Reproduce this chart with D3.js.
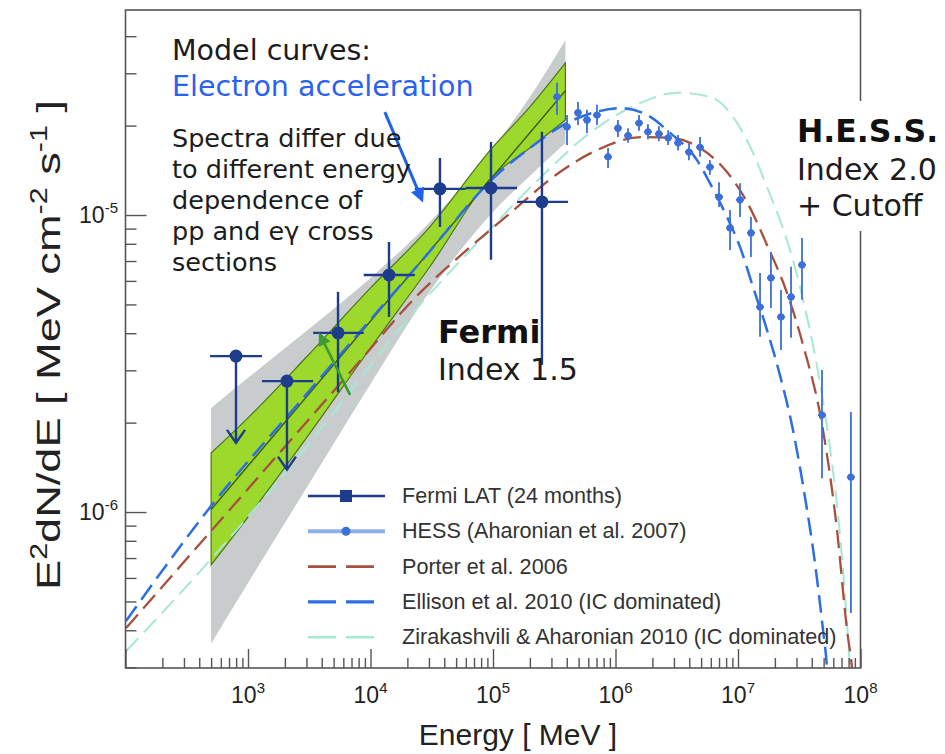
<!DOCTYPE html>
<html>
<head>
<meta charset="utf-8">
<script src="https://cdn.jsdelivr.net/npm/d3@7"></script>
<style>
  body { margin: 0; background: #fff; }
  svg { display: block; }
</style>
</head>
<body>
<div id="chart"></div>
<script>
// Fermi LAT (24 months) points, first two are upper limits
const fermiE = [798, 2080, 5430, 14160, 36900, 96300, 251000];
const fermiF = [3.35e-6, 2.76e-6, 4.01e-6, 6.28e-6, 1.225e-5, 1.233e-5, 1.107e-5];
const fermiELo = [490, 1300, 3400, 8800, 23000, 60000, 157000];
const fermiEHi = [1300, 3400, 8800, 23000, 60000, 157000, 410000];
const fermiFLo = [1.71e-6, 1.39e-6, 2.53e-6, 4.54e-6, 9.12e-6, 7.07e-6, 3.13e-6];
const fermiFHi = [null, null, 5.51e-6, 8.11e-6, 1.556e-5, 1.762e-5, 1.905e-5];
const fermiUL = [true, true, false, false, false, false, false];

// HESS (Aharonian et al. 2007)
const hessE = [3.33e5, 4.02e5, 4.94e5, 5.85e5, 7.06e5, 8.69e5, 1.047e6, 1.265e6, 1.556e6, 1.84e6,
  2.26e6, 2.69e6, 3.24e6, 3.98e6, 4.90e6, 5.90e6, 7.0e6, 8.61e6, 1.038e7, 1.276e7,
  1.513e7, 1.858e7, 2.244e7, 2.71e7, 3.33e7, 4.85e7, 8.35e7];
const hessF = [2.50e-5, 1.98e-5, 2.21e-5, 2.09e-5, 2.17e-5, 1.57e-5, 1.96e-5, 1.85e-5, 2.04e-5, 1.905e-5,
  1.875e-5, 1.82e-5, 1.75e-5, 1.63e-5, 1.69e-5, 1.45e-5, 1.15e-5, 9.05e-6, 1.125e-5, 8.7e-6,
  4.90e-6, 6.14e-6, 4.54e-6, 5.30e-6, 6.79e-6, 2.12e-6, 1.31e-6];
const hessFLo = [2.17e-5, 1.72e-5, 2.01e-5, 1.89e-5, 2.01e-5, 1.44e-5, 1.83e-5, 1.75e-5, 1.92e-5, 1.80e-5,
  1.77e-5, 1.72e-5, 1.65e-5, 1.53e-5, 1.57e-5, 1.365e-5, 1.065e-5, 7.63e-6, 9.85e-6, 7.22e-6,
  3.89e-6, 4.86e-6, 3.51e-6, 3.86e-6, 5.18e-6, 1.30e-6, 4.57e-7];
const hessFHi = [2.79e-5, 2.17e-5, 2.40e-5, 2.26e-5, 2.35e-5, 1.68e-5, 2.09e-5, 1.96e-5, 2.17e-5, 2.02e-5,
  1.99e-5, 1.93e-5, 1.86e-5, 1.74e-5, 1.83e-5, 1.53e-5, 1.29e-5, 1.04e-5, 1.28e-5, 9.85e-6,
  6.38e-6, 7.51e-6, 5.59e-6, 6.69e-6, 8.37e-6, 3.01e-6, 2.17e-6];

// Fermi butterflies (systematic = gray, statistical = green)
const bandE = [500, 1000, 3000, 1e4, 3e4, 1e5, 2e5, 3.9e5];
const grayHi = [2.24e-6, 2.83e-6, 4.07e-6, 6.14e-6, 9.40e-6, 1.681e-5, 2.497e-5, 3.886e-5];
const grayLo = [3.60e-7, 5.77e-7, 1.205e-6, 2.70e-6, 5.47e-6, 1.024e-5, 1.354e-5, 1.748e-5];
const greenHi = [1.58e-6, 2.074e-6, 3.327e-6, 5.683e-6, 9.05e-6, 1.695e-5, 2.311e-5, 3.25e-5];
const greenLo = [6.64e-7, 9.62e-7, 1.776e-6, 3.567e-6, 6.63e-6, 1.354e-5, 1.681e-5, 2.09e-5];
const fitE = [500, 3.9e5];
const fitF = [1.02e-6, 2.62e-5];

// model curves
const porterE = [101, 508, 2200, 7190, 25300, 53800, 1.30e5, 3.52e5, 6.55e5, 1.675e6, 2.79e6, 4.90e6,
  8.13e6, 1.183e7, 1.725e7, 2.51e7, 3.40e7, 4.94e7, 6.43e7, 7.76e7, 8.53e7, 9.0e7];
const porterF = [4.07e-7, 8.70e-7, 1.735e-6, 3.03e-6, 5.47e-6, 7.28e-6, 9.93e-6, 1.396e-5, 1.63e-5, 1.83e-5, 1.82e-5, 1.68e-5,
  1.396e-5, 1.107e-5, 7.93e-6, 5.47e-6, 3.65e-6, 1.89e-6, 8.70e-7, 4.01e-7, 2.985e-7, 2.33e-7];
const ellisonE = [101, 508, 2650, 25300, 1.14e5, 2.00e5, 3.52e5, 6.55e5, 1.09e6, 1.74e6, 2.79e6, 4.63e6,
  5.90e6, 8.13e6, 1.038e7, 1.325e7, 1.725e7, 2.20e7, 2.81e7, 3.52e7, 4.25e7, 4.94e7, 5.33e7, 5.53e7];
const ellisonF = [4.30e-7, 1.057e-6, 2.35e-6, 6.90e-6, 1.396e-5, 1.68e-5, 1.98e-5, 2.21e-5, 2.29e-5, 2.19e-5, 1.89e-5, 1.53e-5,
  1.28e-5, 9.85e-6, 7.81e-6, 5.73e-6, 4.10e-6, 2.89e-6, 1.89e-6, 1.124e-6, 6.74e-7, 4.01e-7, 2.985e-7, 2.33e-7];
const ziraE = [101, 518, 2650, 25300, 78300, 2.42e5, 6.19e5, 1.585e6, 3.18e6, 5.90e6, 9.10e6, 1.325e7,
  1.725e7, 2.20e7, 2.81e7, 3.40e7, 4.09e7, 4.85e7, 5.74e7, 6.68e7, 7.47e7, 8.21e7, 8.53e7];
const ziraF = [3.40e-7, 7.06e-7, 1.556e-6, 4.98e-6, 8.24e-6, 1.333e-5, 1.89e-5, 2.38e-5, 2.58e-5, 2.50e-5, 2.14e-5, 1.62e-5,
  1.243e-5, 9.62e-6, 7.06e-6, 5.18e-6, 3.65e-6, 2.48e-6, 1.556e-6, 9.05e-7, 5.26e-7, 2.985e-7, 2.33e-7];

// annotation arrows [E, F] -> [E, F]
const blueArrow = [[13100, 2.22e-5], [26300, 1.125e-5]];
const greenArrow = [[6810, 2.48e-6], [3870, 3.95e-6]];

const xTickExp = [3, 4, 5, 6, 7, 8];
const yTickExp = [-6, -5];
const legendLabels = [
  "Fermi LAT (24 months)",
  "HESS (Aharonian et al. 2007)",
  "Porter et al. 2006",
  "Ellison et al. 2010 (IC dominated)",
  "Zirakashvili & Aharonian 2010 (IC dominated)",
];

const W = 945, H = 754;
const M = { left: 125.5, right: 860.5, top: 10, bottom: 668 };
const navy = "#1d3c8c", hessBlue = "#3d6fd8", frameColor = "#555";
const axisFont = "'Liberation Sans', Arial, sans-serif";
const noteFont = "'DejaVu Sans', Verdana, sans-serif";

const x = d3.scaleLog().domain([1e2, 1e8]).range([M.left, M.right]);
const y = d3.scaleLog().domain([2.985e-7, 4.9e-5]).range([M.bottom, M.top]);

const svg = d3.select("#chart").append("svg")
  .attr("width", W).attr("height", H).attr("viewBox", [0, 0, W, H]);

const defs = svg.append("defs");
defs.append("clipPath").attr("id", "plot").append("rect")
  .attr("x", M.left).attr("y", M.top)
  .attr("width", M.right - M.left).attr("height", M.bottom - M.top);

function arrowMarker(id, color, w, h) {
  defs.append("marker").attr("id", id)
    .attr("viewBox", "0 0 10 10").attr("refX", 8).attr("refY", 5)
    .attr("markerUnits", "userSpaceOnUse")
    .attr("markerWidth", w).attr("markerHeight", h)
    .attr("orient", "auto")
    .append("path").attr("d", "M0,0L10,5L0,10z").attr("fill", color);
}
arrowMarker("headBlue", "#1f62ea", 16, 14);
arrowMarker("headGreen", "#3e9b32", 15, 13);

const plot = svg.append("g").attr("clip-path", "url(#plot)");

// butterflies
const bandArea = (lo, hi) => d3.area()
  .x((d, i) => x(bandE[i]))
  .y0((d, i) => y(lo[i]))
  .y1((d, i) => y(hi[i]))
  .curve(d3.curveMonotoneX)(bandE);

plot.append("path").attr("d", bandArea(grayLo, grayHi))
  .attr("fill", "#c8cccc");
plot.append("path").attr("d", bandArea(greenLo, greenHi))
  .attr("fill", "#9dd82c").attr("stroke", "#4f7419").attr("stroke-width", 1.2);
plot.append("path")
  .attr("d", d3.line().x((d, i) => x(fitE[i])).y((d, i) => y(fitF[i]))(fitE))
  .attr("stroke", "#3e5c14").attr("stroke-width", 1.4).attr("fill", "none");

// models
const models = [
  { E: ziraE, F: ziraF, color: "#a6e8d6", width: 2, dash: "18,8" },
  { E: porterE, F: porterF, color: "#a5513d", width: 2.3, dash: "18,8" },
  { E: ellisonE, F: ellisonF, color: "#2c6ee3", width: 2.5, dash: "18,8" },
];
models.forEach((m) => {
  plot.append("path")
    .attr("d", d3.line()
      .x((d, i) => x(m.E[i]))
      .y((d, i) => y(m.F[i]))
      .curve(d3.curveMonotoneX)(m.E))
    .attr("fill", "none")
    .attr("stroke", m.color)
    .attr("stroke-width", m.width)
    .attr("stroke-dasharray", m.dash);
});

// HESS points
const hess = plot.append("g");
hessE.forEach((e, i) => {
  const cx = x(e), cy = y(hessF[i]);
  hess.append("line").attr("x1", cx).attr("x2", cx)
    .attr("y1", y(hessFLo[i])).attr("y2", y(hessFHi[i]))
    .attr("stroke", hessBlue).attr("stroke-width", 1.8);
  hess.append("line").attr("x1", cx - 4).attr("x2", cx + 4)
    .attr("y1", cy).attr("y2", cy)
    .attr("stroke", hessBlue).attr("stroke-width", 1.8);
  hess.append("circle").attr("cx", cx).attr("cy", cy).attr("r", 3.6)
    .attr("fill", hessBlue);
});

// Fermi points
const fermi = plot.append("g").attr("stroke", navy).attr("stroke-width", 2.4).attr("fill", "none");
fermiE.forEach((e, i) => {
  const cx = x(e), cy = y(fermiF[i]);
  fermi.append("line").attr("x1", x(fermiELo[i])).attr("x2", x(fermiEHi[i]))
    .attr("y1", cy).attr("y2", cy);
  if (fermiUL[i]) {
    const tip = y(fermiFLo[i]);
    fermi.append("line").attr("x1", cx).attr("x2", cx).attr("y1", cy).attr("y2", tip);
    fermi.append("path").attr("d", `M${cx - 9},${tip - 13}L${cx},${tip}L${cx + 9},${tip - 13}`);
  } else {
    fermi.append("line").attr("x1", cx).attr("x2", cx)
      .attr("y1", y(fermiFLo[i])).attr("y2", y(fermiFHi[i]));
  }
  fermi.append("circle").attr("cx", cx).attr("cy", cy).attr("r", 6.5)
    .attr("fill", navy).attr("stroke", "none");
});

// arrows
plot.append("line")
  .attr("x1", x(greenArrow[0][0])).attr("y1", y(greenArrow[0][1]))
  .attr("x2", x(greenArrow[1][0])).attr("y2", y(greenArrow[1][1]))
  .attr("stroke", "#3e9b32").attr("stroke-width", 2.6)
  .attr("marker-end", "url(#headGreen)");
svg.append("line")
  .attr("x1", x(blueArrow[0][0])).attr("y1", y(blueArrow[0][1]))
  .attr("x2", x(blueArrow[1][0])).attr("y2", y(blueArrow[1][1]))
  .attr("stroke", "#1f62ea").attr("stroke-width", 3)
  .attr("marker-end", "url(#headBlue)");

// frame and ticks
svg.append("rect")
  .attr("x", M.left).attr("y", M.top)
  .attr("width", M.right - M.left).attr("height", M.bottom - M.top)
  .attr("fill", "none").attr("stroke", frameColor).attr("stroke-width", 1.6);

const xMinor = [], yMinor = [];
for (let p = 2; p < 8; p++) for (let m = 2; m < 10; m++) xMinor.push(m * 10 ** p);
for (let p = -7; p < -4; p++) for (let m = 2; m < 10; m++) {
  const v = m * 10 ** p;
  if (v > y.domain()[0] && v < y.domain()[1]) yMinor.push(v);
}
const xMajor = [2, ...xTickExp].map((p) => 10 ** p);
const yMajor = yTickExp.map((p) => 10 ** p);

const styleTicks = (g) => {
  g.select(".domain").remove();
  g.selectAll("line").attr("stroke", frameColor).attr("stroke-width", 1.4);
};
svg.append("g").attr("transform", `translate(0,${M.bottom})`)
  .call(d3.axisBottom(x).tickValues(xMinor).tickSize(-10).tickFormat(""))
  .call(styleTicks);
svg.append("g").attr("transform", `translate(0,${M.bottom})`)
  .call(d3.axisBottom(x).tickValues(xMajor).tickSize(-19).tickFormat(""))
  .call(styleTicks);
svg.append("g").attr("transform", `translate(${M.left},0)`)
  .call(d3.axisLeft(y).tickValues(yMinor).tickSize(-11).tickFormat(""))
  .call(styleTicks);
svg.append("g").attr("transform", `translate(${M.left},0)`)
  .call(d3.axisLeft(y).tickValues(yMajor).tickSize(-21).tickFormat(""))
  .call(styleTicks);

// tick labels
xTickExp.forEach((p) => {
  const t = svg.append("text").attr("x", x(10 ** p)).attr("y", 703)
    .attr("text-anchor", "middle").attr("font-family", axisFont)
    .attr("font-size", 23).attr("fill", "#222");
  t.append("tspan").text("10");
  t.append("tspan").attr("font-size", 15).attr("dy", -10).text(p);
});
yTickExp.forEach((p) => {
  const t = svg.append("text").attr("x", 118).attr("y", y(10 ** p) + 8)
    .attr("text-anchor", "end").attr("font-family", axisFont)
    .attr("font-size", 23).attr("fill", "#222");
  t.append("tspan").text("10");
  t.append("tspan").attr("font-size", 15).attr("dy", -10).text(p);
});

// axis titles
svg.append("text").attr("x", 518).attr("y", 745)
  .attr("text-anchor", "middle").attr("font-family", axisFont)
  .attr("font-size", 30).attr("fill", "#222").text("Energy [ MeV ]");

const yTitle = svg.append("text")
  .attr("text-anchor", "middle").attr("font-family", axisFont)
  .attr("font-size", 34).attr("fill", "#222");
yTitle.append("tspan").text("E");
yTitle.append("tspan").attr("font-size", 23).attr("dy", -13).text("2");
yTitle.append("tspan").attr("dy", 13).text("dN/dE [ MeV cm");
yTitle.append("tspan").attr("font-size", 23).attr("dy", -13).text("-2");
yTitle.append("tspan").attr("dy", 13).text(" s");
yTitle.append("tspan").attr("font-size", 23).attr("dy", -13).text("-1");
yTitle.append("tspan").attr("dy", 13).text(" ]");
const yTitleW = yTitle.node().getBBox().width;
yTitle.attr("transform", `translate(60,345) rotate(-90) scale(${490 / yTitleW},1)`);

// legend
const legend = svg.append("g").attr("transform", "translate(308,496)");
legendLabels.forEach((label, i) => {
  const row = legend.append("g").attr("transform", `translate(0,${i * 35.3})`);
  if (i === 0) {
    row.append("line").attr("x2", 77).attr("stroke", navy).attr("stroke-width", 2.4);
    row.append("rect").attr("x", 32).attr("y", -6).attr("width", 12).attr("height", 12).attr("fill", navy);
  } else if (i === 1) {
    row.append("line").attr("x2", 77).attr("stroke", "#8fb0ee").attr("stroke-width", 4);
    row.append("circle").attr("cx", 38).attr("r", 4.5).attr("fill", hessBlue);
  } else {
    const m = models[[null, null, 1, 2, 0][i]];
    row.append("line").attr("x2", 70).attr("stroke", m.color)
      .attr("stroke-width", m.width + 0.6).attr("stroke-dasharray", "28,10");
  }
  row.append("text").attr("x", 94).attr("y", 7)
    .attr("font-family", axisFont).attr("font-size", 21.6).attr("fill", "#333")
    .text(label);
});

// notes
const note = (tx, ty, str, opts = {}) =>
  svg.append("text").attr("x", tx).attr("y", ty)
    .attr("font-family", noteFont)
    .attr("font-size", opts.size || 28)
    .attr("font-weight", opts.bold ? "bold" : "normal")
    .attr("fill", opts.color || "#1c1c1c")
    .text(str);

note(172, 60, "Model curves:", { size: 28.5 });
note(172, 96, "Electron acceleration", { size: 28.5, color: "#2a62f0" });
["Spectra differ due", "to different energy", "dependence of", "pp and e\u03b3 cross", "sections"]
  .forEach((s, i) => note(172, 147 + i * 31, s, { size: 25.5 }));
note(438, 343, "Fermi", { size: 32, bold: true, color: "#111" });
note(438, 380, "Index 1.5", { size: 30 });

svg.append("rect").attr("x", 789).attr("y", 101).attr("width", 156).attr("height", 130).attr("fill", "#fff");
note(797, 142, "H.E.S.S.", { size: 31.5, bold: true, color: "#111" });
note(797, 180, "Index 2.0", { size: 30 });
note(797, 216, "+ Cutoff", { size: 30 });
</script>
</body>
</html>
